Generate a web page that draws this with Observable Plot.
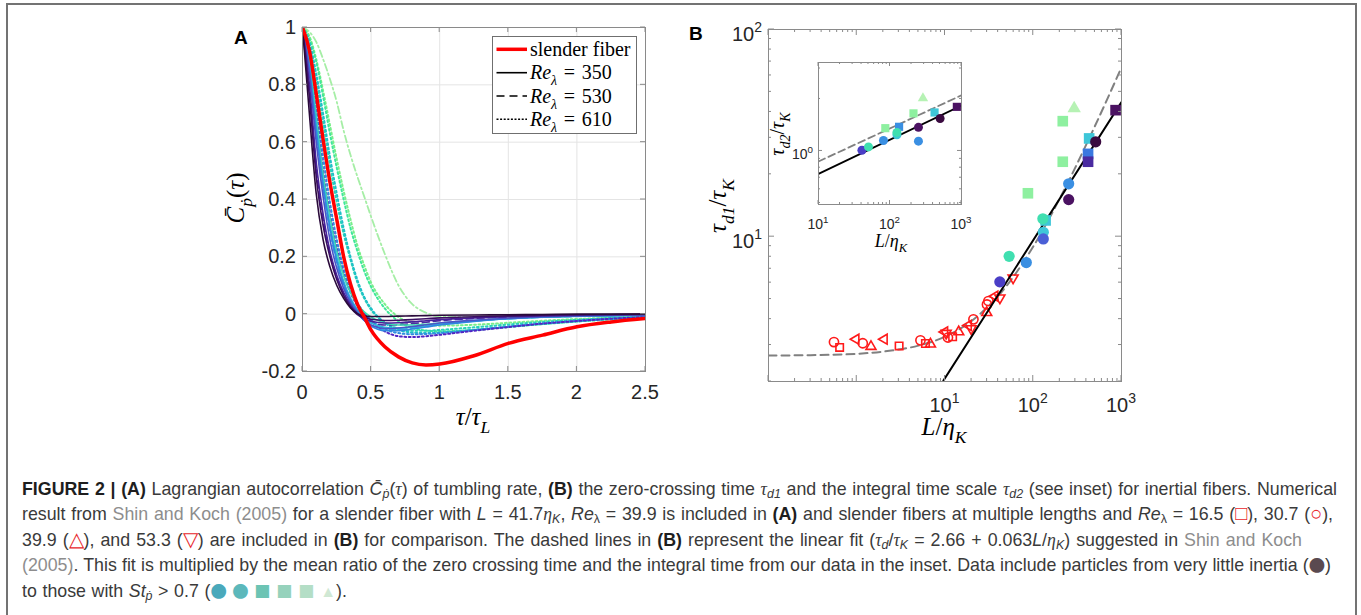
<!DOCTYPE html>
<html><head><meta charset="utf-8">
<script src="https://cdn.jsdelivr.net/npm/d3@7"></script>
<script src="https://cdn.jsdelivr.net/npm/@observablehq/plot@0.6"></script>
<style>
html,body{margin:0;padding:0;background:#fff;}
body{width:1361px;height:615px;overflow:hidden;position:relative;font-family:"Liberation Sans",Arial,sans-serif;}
#border{position:absolute;left:6px;top:3px;width:1347px;height:800px;border:2px solid #737373;border-bottom:none;}
.panel{position:absolute;}
.panel svg{display:block;}
#overlay{position:absolute;left:0;top:0;pointer-events:none;}
.cap{position:absolute;left:22px;white-space:nowrap;font-size:17.8px;line-height:25px;color:#3a3a3a;}
.cap b{color:#1e1e1e;}
.cap .lk{color:#8d8d8d;}
.cap .r{color:#e8262b;font-size:1.12em;line-height:0;}
.cap .sy{font-family:"Noto Sans CJK SC",sans-serif;font-size:0.92em;line-height:0;}
.cap sub{font-size:0.7em;vertical-align:-0.28em;line-height:0;}
.cap .mt{font-family:"Liberation Serif",serif;font-style:italic;}
</style></head>
<body>
<div id="border"></div>
<div id="panelA" class="panel" style="left:220px;top:0px"></div>
<div id="panelB" class="panel" style="left:680px;top:0px"></div>
<div id="panelI" class="panel" style="left:770px;top:40px"></div>
<svg id="overlay" width="1361" height="615"></svg>
<div class="cap" data-w="1315" style="top:477px"><b>FIGURE 2 | (A)</b> Lagrangian autocorrelation <i>C̄</i><sub><i>ṗ</i></sub>(<span class="mt">τ</span>) of tumbling rate, <b>(B)</b> the zero-crossing time <span class="mt">τ</span><sub><i>d1</i></sub> and the integral time scale <span class="mt">τ</span><sub><i>d2</i></sub> (see inset) for inertial fibers. Numerical</div>
<div class="cap" data-w="1311" style="top:502.4px">result from <span class="lk">Shin and Koch (2005)</span> for a slender fiber with <i>L</i> = 41.7<span class="mt">η</span><sub><i>K</i></sub>, <i>Re</i><sub>λ</sub> = 39.9 is included in <b>(A)</b> and slender fibers at multiple lengths and <i>Re</i><sub>λ</sub> = 16.5 (<span class="r">□</span>), 30.7 (<span class="r">○</span>),</div>
<div class="cap" data-w="1280" style="top:527.8px">39.9 (<span class="r">△</span>), and 53.3 (<span class="r">▽</span>) are included in <b>(B)</b> for comparison. The dashed lines in <b>(B)</b> represent the linear fit (<span class="mt">τ</span><sub><i>d</i></sub>/<span class="mt">τ</span><sub><i>K</i></sub> = 2.66 + 0.063<i>L</i>/<span class="mt">η</span><sub><i>K</i></sub>) suggested in <span class="lk">Shin and Koch</span></div>
<div class="cap" data-w="1309" style="top:553.2px"><span class="lk">(2005)</span>. This fit is multiplied by the mean ratio of the zero crossing time and the integral time from our data in the inset. Data include particles from very little inertia (<span class="sy" style="color:#5a4a50">●</span>)</div>
<div class="cap" data-w="325" style="top:578.6px">to those with <i>St</i><sub><i>ṗ</i></sub> &gt; 0.7 (<span class="sy" style="color:#4aa9bb">●</span> <span class="sy" style="color:#5cb8bb">●</span> <span class="sy" style="color:#6cc4b4">■</span> <span class="sy" style="color:#96d2bc">■</span> <span class="sy" style="color:#b4dec6">■</span> <span style="color:#d0e8d4;font-size:0.9em">▲</span>).</div>
<script>
// ================= DATA =================
// Panel A: normalized autocorrelation vs tau/tau_L
const tauA = [0, 0.05, 0.1, 0.15, 0.2, 0.25, 0.3, 0.35, 0.4, 0.45, 0.5, 0.6, 0.7, 0.8, 0.9, 1.0, 1.25, 1.5, 1.75, 2.0, 2.25, 2.5];
const re350_k0 = [1, 0.70, 0.42, 0.26, 0.165, 0.10, 0.055, 0.022, 0.002, -0.006, -0.008, -0.008, -0.007, -0.006, -0.005, -0.004, -0.003, -0.002, -0.001, 0, 0, 0];
const re350_k1 = [1, 0.76, 0.48, 0.31, 0.20, 0.12, 0.065, 0.025, -0.002, -0.012, -0.018, -0.022, -0.021, -0.019, -0.016, -0.013, -0.009, -0.006, -0.004, -0.002, -0.001, 0];
const re350_k2 = [1, 0.8, 0.53, 0.35, 0.22, 0.135, 0.075, 0.032, 0.002, -0.016, -0.025, -0.031, -0.03, -0.027, -0.023, -0.019, -0.013, -0.009, -0.006, -0.004, -0.002, -0.001];
const re350_k3 = [1, 0.84, 0.6, 0.41, 0.26, 0.16, 0.09, 0.04, 0.005, -0.022, -0.038, -0.05, -0.048, -0.043, -0.037, -0.031, -0.021, -0.014, -0.009, -0.006, -0.004, -0.003];
const re350_k4 = [1, 0.86, 0.64, 0.45, 0.3, 0.185, 0.105, 0.05, 0.012, -0.02, -0.04, -0.058, -0.058, -0.052, -0.045, -0.038, -0.025, -0.016, -0.01, -0.007, -0.005, -0.003];
const re350_k5 = [1, 0.87, 0.66, 0.46, 0.31, 0.2, 0.115, 0.056, 0.016, -0.012, -0.03, -0.046, -0.049, -0.046, -0.041, -0.035, -0.024, -0.016, -0.011, -0.007, -0.005, -0.003];
const re350_k6 = [1, 0.89, 0.69, 0.49, 0.34, 0.22, 0.135, 0.075, 0.035, 0.008, -0.01, -0.03, -0.038, -0.038, -0.035, -0.031, -0.022, -0.015, -0.01, -0.007, -0.005, -0.003];
const re530_k2 = [1, 0.79, 0.51, 0.33, 0.21, 0.13, 0.07, 0.03, 0, -0.018, -0.03, -0.038, -0.037, -0.033, -0.028, -0.023, -0.015, -0.01, -0.007, -0.005, -0.003, -0.002];
const re530_k4 = [1, 0.86, 0.63, 0.44, 0.29, 0.18, 0.1, 0.045, 0.008, -0.022, -0.042, -0.055, -0.054, -0.049, -0.043, -0.036, -0.024, -0.016, -0.011, -0.008, -0.005, -0.003];
const re610_k2 = [1, 0.89, 0.7, 0.5, 0.35, 0.23, 0.14, 0.075, 0.03, 0, -0.025, -0.06, -0.077, -0.08, -0.077, -0.072, -0.058, -0.045, -0.033, -0.024, -0.016, -0.01];
const re610_k3 = [1, 0.91, 0.74, 0.55, 0.39, 0.26, 0.16, 0.09, 0.04, 0.005, -0.02, -0.052, -0.066, -0.07, -0.069, -0.066, -0.055, -0.043, -0.032, -0.023, -0.015, -0.01];
const re610_k4 = [1, 0.95, 0.84, 0.7, 0.55, 0.42, 0.3, 0.2, 0.12, 0.06, 0.02, -0.03, -0.055, -0.064, -0.066, -0.064, -0.055, -0.044, -0.034, -0.025, -0.017, -0.011];
const re610_k5 = [1, 0.94, 0.82, 0.67, 0.52, 0.39, 0.28, 0.19, 0.11, 0.055, 0.015, -0.03, -0.05, -0.058, -0.058, -0.055, -0.046, -0.036, -0.027, -0.02, -0.013, -0.008];
const re610_k6 = [1, 0.96, 0.88, 0.76, 0.63, 0.51, 0.4, 0.3, 0.22, 0.15, 0.095, 0.02, -0.025, -0.048, -0.057, -0.06, -0.055, -0.045, -0.035, -0.026, -0.018, -0.012];
const re610_k7 = [1, 0.97, 0.89, 0.78, 0.66, 0.54, 0.43, 0.33, 0.24, 0.17, 0.11, 0.035, -0.01, -0.03, -0.038, -0.04, -0.037, -0.03, -0.023, -0.017, -0.012, -0.008];
const other_k8 = [1, 0.985, 0.95, 0.89, 0.82, 0.74, 0.64, 0.555, 0.48, 0.41, 0.34, 0.21, 0.1, 0.035, 0.005, -0.008, -0.01, -0.009, -0.007, -0.005, -0.004, -0.003];
const slenderFiber = [1, 0.92, 0.77, 0.61, 0.46, 0.33, 0.2, 0.105, 0.035, -0.01, -0.056, -0.114, -0.149, -0.17, -0.177, -0.174, -0.145, -0.102, -0.073, -0.044, -0.027, -0.015];
const xTicksA = [0, 0.5, 1, 1.5, 2, 2.5];
const yTicksA = [-0.2, 0, 0.2, 0.4, 0.6, 0.8, 1];
const xTickLabelsA = ["0", "0.5", "1", "1.5", "2", "2.5"];
const yTickLabelsA = ["-0.2", "0", "0.2", "0.4", "0.6", "0.8", "1"];
const legendLabelsA = ["slender fiber", "350", "530", "610"];

// Panel B: tau_d1/tau_K vs L/eta_K
const fitDashedL = [0.1, 0.3, 1, 2, 5, 10, 20, 50, 100, 200, 500, 1000];
const fitDashedY = [2.67, 2.68, 2.72, 2.79, 2.98, 3.29, 3.92, 5.8, 8.96, 15.3, 34.2, 65.7];
const fitSolidL = [9.6, 1000];
const fitSolidY = [2.02, 44.6];
const redCircleL = [0.552, 1.17, 5.27, 10.8, 21, 29.9, 31];
const redCircleY = [3.1, 3.06, 3.16, 3.26, 3.99, 4.71, 4.89];
const redSquareL = [0.64, 3.02, 6.0, 12.2];
const redSquareY = [2.92, 2.97, 3.05, 3.29];
const redUpL = [1.45, 6.84, 14.3, 29.7];
const redUpY = [2.95, 3.03, 3.47, 4.3];
const redLeftL = [0.98, 2.05, 9.93, 18.4, 36.8];
const redLeftY = [3.2, 3.2, 3.47, 3.73, 5.16];
const redDownL = [10.3, 19.8, 41.9, 59.1];
const redDownY = [3.42, 3.6, 5.07, 6.33];
const fibCircleL = [41.8, 53.3, 83.4, 128.5, 130, 130, 252, 252, 510];
const fibCircleY = [6.05, 8.04, 7.5, 12.2, 10.5, 9.75, 18.0, 15.1, 28.7];
const fibCircleK = [2, 5, 3, 5, 4, 8, 3, 1, 0];
const fibSquareL = [857, 216, 430, 418, 418, 216, 87, 138];
const fibSquareY = [40.8, 36.1, 29.8, 25.1, 23.0, 23.0, 16.2, 11.98];
const fibSquareK = [1, 6, 4, 10, 9, 6, 6, 4];
const fibTriL = [291];
const fibTriY = [41.6];
const fibTriK = [7];

// Inset: tau_d2/tau_K
const insetDashedL = [10, 1000];
const insetDashedY = [0.869, 2.1];
const insetSolidL = [10, 1000];
const insetSolidY = [0.737, 1.83];
const insCircleL = [40.5, 50, 81, 125, 125, 250, 250, 502];
const insCircleY = [1.01, 1.055, 1.15, 1.24, 1.28, 1.37, 1.14, 1.54];
const insCircleK = [2, 5, 3, 4, 5, 1, 3, 0];
const insSquareL = [134, 86, 213, 420, 861];
const insSquareY = [1.38, 1.355, 1.65, 1.67, 1.8];
const insSquareK = [3, 6, 6, 4, 1];
const insTriL = [289];
const insTriY = [2.02];
const insTriK = [7];

// ================= STYLES =================
const inertiaColor = ["#3a0a40", "#4b1262", "#4a3ec6", "#3a8fe2", "#3ec6d8", "#40dfb0", "#8ef0a0", "#b6f2b4", "#4a5fd6", "#4a2aa0", "#3a78e0"];
const DOT = "1.8,2.6", DASH = "7,4", DASHDOT = "7,3,1.8,3";
const seriesA = {re350_k0, re350_k1, re350_k2, re350_k3, re350_k4, re350_k5, re350_k6, re530_k2, re530_k4,
  re610_k2, re610_k3, re610_k4, re610_k5, re610_k6, re610_k7, other_k8, slenderFiber};
const styleA = {
  other_k8: {stroke: "#a6eea6", dash: DASHDOT, width: 1.8},
  re610_k7: {stroke: "#7aef8a", dash: DOT, width: 2},
  re610_k6: {stroke: "#3fe79a", dash: DOT, width: 2},
  re610_k5: {stroke: "#2ad4b8", dash: DOT, width: 2},
  re610_k4: {stroke: "#1fc0c8", dash: DOT, width: 2},
  re610_k3: {stroke: "#2f8fe0", dash: DOT, width: 2},
  re610_k2: {stroke: "#5226c4", dash: DOT, width: 2},
  re530_k4: {stroke: "#3aa0e0", dash: DASH, width: 1.6},
  re530_k2: {stroke: "#4b2aa0", dash: DASH, width: 1.6},
  re350_k6: {stroke: "#3ddcb0", dash: null, width: 1.6},
  re350_k5: {stroke: "#2cb9d8", dash: null, width: 1.6},
  re350_k4: {stroke: "#2f86e0", dash: null, width: 1.6},
  re350_k3: {stroke: "#4a55c8", dash: null, width: 1.6},
  re350_k2: {stroke: "#47209a", dash: null, width: 1.6},
  re350_k1: {stroke: "#3c0f62", dash: null, width: 1.6},
  re350_k0: {stroke: "#2a0a3a", dash: null, width: 1.6},
  slenderFiber: {stroke: "#ff0000", dash: null, width: 3.5}
};
const FRAME = "#8a8a8a";
const FONT = "'Liberation Sans', Arial, sans-serif";
const SERIF = "'Liberation Serif', 'Times New Roman', serif";

// custom triangle symbols
const deg = Math.PI / 180;
const mkTri = (angles) => ({draw(ctx, size) {
  const r = Math.sqrt(size / Math.PI) * 1.25;
  angles.forEach((a, i) => { const x = r * Math.cos(a), y = r * Math.sin(a); i ? ctx.lineTo(x, y) : ctx.moveTo(x, y); });
  ctx.closePath();
}});
const triUp = mkTri([-90 * deg, 30 * deg, 150 * deg]);
const triDown = mkTri([90 * deg, -30 * deg, 210 * deg]);
const triLeft = mkTri([180 * deg, -60 * deg, 60 * deg]);

const zipPts = (L, Y, K) => L.map((l, i) => ({L: l, y: Y[i], k: K ? K[i] : 0}));

// ================= helpers =================
function addTicks(plot, xMaj, xMin, yMaj, yMin, Lmaj, Lmin, color) {
  const sx = plot.scale("x"), sy = plot.scale("y");
  const [x0, x1] = sx.range, [y0, y1] = sy.range;
  const g = d3.select(plot).append("g").attr("stroke", color).attr("stroke-width", 1).attr("fill", "none");
  const seg = (a, b, c, d) => g.append("line").attr("x1", a).attr("y1", b).attr("x2", c).attr("y2", d);
  for (const [vals, L] of [[xMaj, Lmaj], [xMin, Lmin]]) for (const v of vals) {
    const x = sx.apply(v); seg(x, y0, x, y0 - L); seg(x, y1, x, y1 + L);
  }
  for (const [vals, L] of [[yMaj, Lmaj], [yMin, Lmin]]) for (const v of vals) {
    const y = sy.apply(v); seg(x0, y, x0 + L, y); seg(x1, y, x1 - L, y);
  }
}
function richText(parent, x, y, parts, {size = 20, family = SERIF, anchor = "middle", rotate = 0, fill = "#000", weight = "normal"} = {}) {
  const t = parent.append("text").attr("x", x).attr("y", y).attr("text-anchor", anchor)
    .attr("font-family", family).attr("font-size", size).attr("fill", fill).attr("font-weight", weight);
  if (rotate) t.attr("transform", `rotate(${rotate},${x},${y})`);
  let cur = 0;
  for (const [txt, o = {}] of parts) {
    const target = o.sub ? size * 0.3 : o.sup ? -size * 0.45 : 0;
    const ts = t.append("tspan").text(txt).attr("dy", target - cur);
    cur = target;
    ts.attr("font-size", (o.sub || o.sup) ? size * 0.7 : size);
    if (o.italic) ts.attr("font-style", "italic");
  }
  return t;
}
function logLabel(parent, x, y, exp, size, anchor) {
  return richText(parent, x, y, [["10"], [String(exp), {sup: true}]], {size, family: FONT, anchor, fill: "#262626"});
}
const range = (a, b) => { const r = []; for (let i = a; i <= b; i++) r.push(i); return r; };
const minorDec = (decs) => decs.flatMap(d => range(2, 9).map(m => m * d));

// ================= PANEL A =================
const orderA = Object.keys(styleA);
const plotA = Plot.plot({
  width: 450, height: 440, marginLeft: 82, marginRight: 25, marginTop: 27, marginBottom: 69,
  x: {domain: [0, 2.5], axis: null},
  y: {domain: [-0.2, 1], axis: null},
  style: {background: "transparent", overflow: "visible"},
  marks: [
    Plot.gridX(xTicksA, {stroke: "#e4e4e4", strokeOpacity: 1}),
    Plot.gridY(yTicksA, {stroke: "#e4e4e4", strokeOpacity: 1}),
    ...orderA.map(id => Plot.line(tauA.map((t, i) => ({t, v: seriesA[id][i]})), {
      x: "t", y: "v", stroke: styleA[id].stroke, strokeWidth: styleA[id].width,
      strokeDasharray: styleA[id].dash || undefined, curve: "monotone-x", clip: true
    })),
    Plot.frame({stroke: FRAME, strokeWidth: 1})
  ]
});
document.getElementById("panelA").append(plotA);
addTicks(plotA, xTicksA, [], yTicksA, [], 5, 0, FRAME);
{
  const s = d3.select(plotA), sx = plotA.scale("x"), sy = plotA.scale("y");
  const yb = sy.range[0], xl = sx.range[0];
  xTicksA.forEach((v, i) => s.append("text").attr("x", sx.apply(v)).attr("y", yb + 28).attr("text-anchor", "middle")
    .attr("font-family", FONT).attr("font-size", 20).attr("fill", "#262626").text(xTickLabelsA[i]));
  yTicksA.forEach((v, i) => s.append("text").attr("x", xl - 6).attr("y", sy.apply(v) + 7).attr("text-anchor", "end")
    .attr("font-family", FONT).attr("font-size", 20).attr("fill", "#262626").text(yTickLabelsA[i]));
}

// ================= PANEL B =================
const ptsCirc = zipPts(fibCircleL, fibCircleY, fibCircleK);
const ptsSq = zipPts(fibSquareL, fibSquareY, fibSquareK);
const ptsTri = zipPts(fibTriL, fibTriY, fibTriK);
const RED = "#ff1a1a";
const plotB = Plot.plot({
  width: 470, height: 440, marginLeft: 88, marginRight: 29, marginTop: 29, marginBottom: 59,
  x: {type: "log", domain: [0.1, 1000], axis: null},
  y: {type: "log", domain: [2, 100], axis: null},
  color: {type: "identity"},
  style: {background: "transparent", overflow: "visible"},
  marks: [
    Plot.line(zipPts(fitDashedL, fitDashedY), {x: "L", y: "y", stroke: "#808080", strokeWidth: 2, strokeDasharray: "8,5", curve: "monotone-x", clip: true}),
    Plot.dot(zipPts(redCircleL, redCircleY), {x: "L", y: "y", r: 4.6, stroke: RED, strokeWidth: 1.6, fill: "none"}),
    Plot.dot(zipPts(redSquareL, redSquareY), {x: "L", y: "y", r: 4.2, symbol: "square", stroke: RED, strokeWidth: 1.6, fill: "none"}),
    Plot.dot(zipPts(redUpL, redUpY), {x: "L", y: "y", r: 4.6, symbol: triUp, stroke: RED, strokeWidth: 1.6, fill: "none"}),
    Plot.dot(zipPts(redLeftL, redLeftY), {x: "L", y: "y", r: 4.6, symbol: triLeft, stroke: RED, strokeWidth: 1.6, fill: "none"}),
    Plot.dot(zipPts(redDownL, redDownY), {x: "L", y: "y", r: 4.6, symbol: triDown, stroke: RED, strokeWidth: 1.6, fill: "none"}),
    Plot.line(zipPts(fitSolidL, fitSolidY), {x: "L", y: "y", stroke: "#000", strokeWidth: 2, clip: true}),
    Plot.dot(ptsSq, {x: "L", y: "y", r: 6, symbol: "square", fill: d => inertiaColor[d.k], stroke: "none"}),
    Plot.dot(ptsCirc, {x: "L", y: "y", r: 5.6, fill: d => inertiaColor[d.k], stroke: "none"}),
    Plot.dot(ptsTri, {x: "L", y: "y", r: 6.2, symbol: triUp, fill: d => inertiaColor[d.k], stroke: "none"}),
    Plot.frame({stroke: FRAME, strokeWidth: 1})
  ]
});
document.getElementById("panelB").append(plotB);
addTicks(plotB, [0.1, 1, 10, 100, 1000], minorDec([0.1, 1, 10, 100]), [10, 100], minorDec([1, 10]).filter(v => v >= 2), 6, 3, FRAME);
{
  const s = d3.select(plotB), sx = plotB.scale("x"), sy = plotB.scale("y");
  const yb = sy.range[0], xl = sx.range[0];
  [[10, 1], [100, 2], [1000, 3]].forEach(([v, e]) => logLabel(s, sx.apply(v), yb + 30.5, e, 20, "middle"));
  [[10, 1], [100, 2]].forEach(([v, e]) => logLabel(s, xl - 6, sy.apply(v) + 12, e, 20, "end"));
}

// ================= INSET =================
const plotI = Plot.plot({
  width: 200, height: 220, marginLeft: 48, marginRight: 9, marginTop: 22, marginBottom: 56,
  x: {type: "log", domain: [10, 1000], axis: null},
  y: {type: "log", domain: [0.49, 3.25], axis: null},
  color: {type: "identity"},
  style: {background: "transparent", overflow: "visible"},
  marks: [
    Plot.frame({fill: "white", stroke: "none"}),
    Plot.line(zipPts(insetDashedL, insetDashedY), {x: "L", y: "y", stroke: "#808080", strokeWidth: 1.8, strokeDasharray: "7,4", clip: true}),
    Plot.line(zipPts(insetSolidL, insetSolidY), {x: "L", y: "y", stroke: "#000", strokeWidth: 1.8, clip: true}),
    Plot.dot(zipPts(insSquareL, insSquareY, insSquareK), {x: "L", y: "y", r: 4.6, symbol: "square", fill: d => inertiaColor[d.k], stroke: "none"}),
    Plot.dot(zipPts(insCircleL, insCircleY, insCircleK), {x: "L", y: "y", r: 4.5, fill: d => inertiaColor[d.k], stroke: "none"}),
    Plot.dot(zipPts(insTriL, insTriY, insTriK), {x: "L", y: "y", r: 4.8, symbol: triUp, fill: d => inertiaColor[d.k], stroke: "none"}),
    Plot.frame({stroke: FRAME, strokeWidth: 1})
  ]
});
document.getElementById("panelI").append(plotI);
addTicks(plotI, [10, 100, 1000], minorDec([10, 100]), [1], [0.5, 0.6, 0.7, 0.8, 0.9, 2, 3], 4, 2, FRAME);
{
  const s = d3.select(plotI), sx = plotI.scale("x"), sy = plotI.scale("y");
  const yb = sy.range[0], xl = sx.range[0];
  [[10, 1], [100, 2], [1000, 3]].forEach(([v, e]) => logLabel(s, sx.apply(v), yb + 25, e, 14, "middle"));
  logLabel(s, xl - 5, sy.apply(1) + 9, 0, 14, "end");
}

// ================= OVERLAY (titles, legend) =================
const ov = d3.select("#overlay");
ov.append("text").attr("x", 234).attr("y", 44).attr("font-family", FONT).attr("font-weight", "bold").attr("font-size", 19).text("A");
ov.append("text").attr("x", 689).attr("y", 40).attr("font-family", FONT).attr("font-weight", "bold").attr("font-size", 19).text("B");
// axis titles
richText(ov, 473, 425, [["τ", {italic: true}], ["/"], ["τ", {italic: true}], ["L", {sub: true, italic: true}]], {size: 25});
richText(ov, 244, 198, [["C̄", {italic: true}], ["ṗ", {sub: true, italic: true}], ["("], ["τ", {italic: true}], [")"]], {size: 25, rotate: -90});
richText(ov, 944, 435, [["L", {italic: true}], ["/"], ["η", {italic: true}], ["K", {sub: true, italic: true}]], {size: 25});
richText(ov, 726, 206, [["τ", {italic: true}], ["d1", {sub: true, italic: true}], ["/"], ["τ", {italic: true}], ["K", {sub: true, italic: true}]], {size: 25, rotate: -90});
richText(ov, 891, 247, [["L", {italic: true}], ["/"], ["η", {italic: true}], ["K", {sub: true, italic: true}]], {size: 18});
richText(ov, 784, 134, [["τ", {italic: true}], ["d2", {sub: true, italic: true}], ["/"], ["τ", {italic: true}], ["K", {sub: true, italic: true}]], {size: 20, rotate: -90});
// legend of panel A
{
  const lx = 492.5, ly = 36.5;
  ov.append("rect").attr("x", lx).attr("y", ly).attr("width", 144).attr("height", 97).attr("fill", "white").attr("stroke", "#6f6f6f").attr("stroke-width", 1);
  const rows = [49.3, 72.7, 96, 119.3];
  const lstyles = [{c: "#ff0000", w: 3.5, d: null}, {c: "#000", w: 1.6, d: null}, {c: "#000", w: 1.6, d: "8,5"}, {c: "#000", w: 1.6, d: "2,1.6"}];
  rows.forEach((y, i) => {
    const l = ov.append("line").attr("x1", 496.5).attr("x2", 527).attr("y1", y).attr("y2", y)
      .attr("stroke", lstyles[i].c).attr("stroke-width", lstyles[i].w);
    if (lstyles[i].d) l.attr("stroke-dasharray", lstyles[i].d);
    if (i === 0) richText(ov, 530, y + 6.5, [[legendLabelsA[0]]], {size: 20, anchor: "start"});
    else richText(ov, 530, y + 6.5, [["Re", {italic: true}], ["λ", {sub: true, italic: true}], ["\u2004=\u2004" + legendLabelsA[i]]], {size: 20, anchor: "start"});
  });
}

// caption line widths: stretch word spacing so each line ends where the reference does
document.querySelectorAll(".cap").forEach(el => {
  const target = +el.dataset.w;
  const natural = el.getBoundingClientRect().width;
  const spaces = (el.textContent.match(/ /g) || []).length;
  if (spaces) el.style.wordSpacing = ((target - natural) / spaces).toFixed(3) + "px";
});
</script>
</body></html>
